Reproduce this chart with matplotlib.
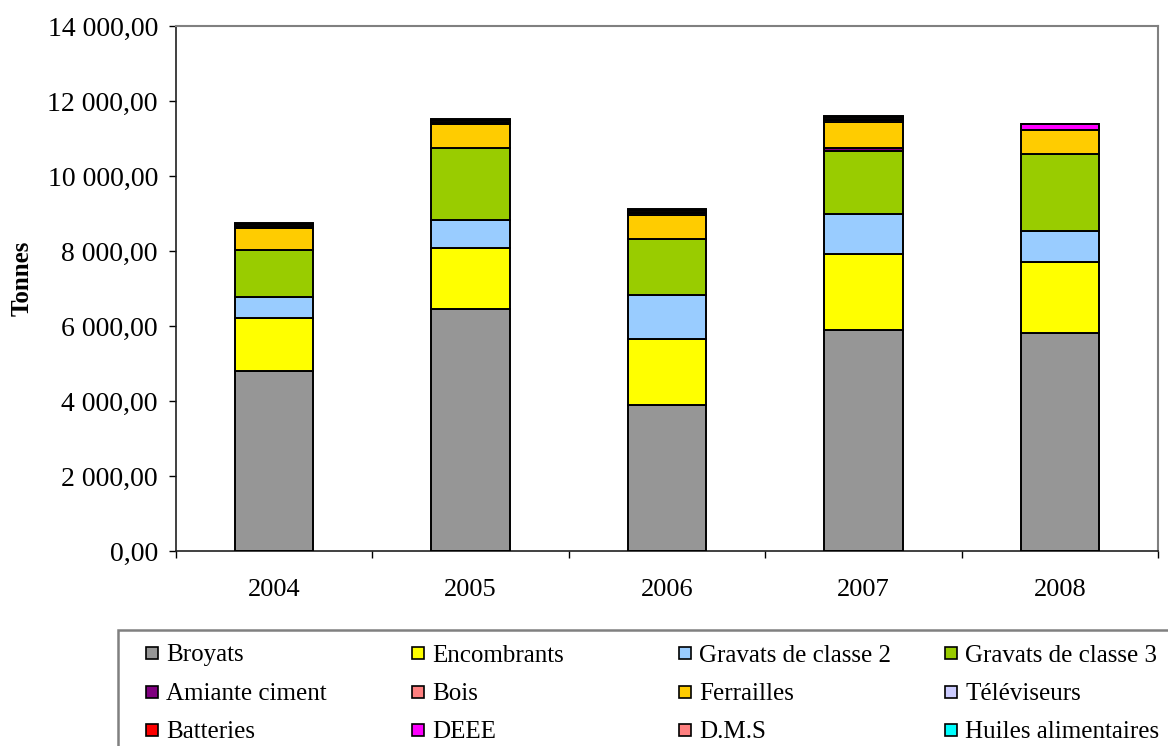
import numpy as np
import matplotlib
matplotlib.use("Agg")
import matplotlib.pyplot as plt
from matplotlib.patches import Rectangle
from matplotlib.ticker import FuncFormatter, FixedLocator

plt.rcParams["font.family"] = ["Liberation Serif", "DejaVu Serif"]

# ── Data (tonnes) ─────────────────────────────────────────────────────
years = ["2004", "2005", "2006", "2007", "2008"]

categories = ["Broyats", "Encombrants", "Gravats de classe 2", "Gravats de classe 3",
              "Amiante ciment", "Bois", "Ferrailles", "Téléviseurs",
              "Batteries", "DEEE", "D.M.S", "Huiles alimentaires"]

broyats     = [4805, 6450, 3890, 5900, 5805]
encombrants = [1405, 1635, 1760, 2030, 1910]
gravats_2   = [555, 740, 1170, 1060, 810]
gravats_3   = [1260, 1910, 1500, 1690, 2065]
amiante     = [0, 0, 0, 80, 0]
bois        = [0, 0, 0, 0, 0]
ferrailles  = [590, 645, 650, 675, 650]
televiseurs = [35, 35, 40, 50, 0]
batteries   = [30, 33, 35, 40, 0]
deee        = [0, 0, 0, 0, 150]
dms         = [35, 35, 40, 50, 0]
huiles      = [25, 30, 27, 35, 0]

series = [broyats, encombrants, gravats_2, gravats_3, amiante, bois,
          ferrailles, televiseurs, batteries, deee, dms, huiles]

colors = ["#969696", "#FFFF00", "#99CCFF", "#99CC00", "#800080", "#FF8080",
          "#FFCC00", "#CCCCFF", "#FF0000", "#FF00FF", "#FF8080", "#00FFFF"]

W, H = 1168, 746

# ── Figure ────────────────────────────────────────────────────────────
fig = plt.figure(figsize=(W / 100, H / 100), dpi=100)
ax = fig.add_axes([176 / W, 1 - 551 / H, (1158 - 176) / W, (551 - 26) / H])

x = np.arange(len(years))
bottom = np.zeros(len(years))
for vals, col, name in zip(series, colors, categories):
    ax.bar(x, vals, width=0.4, bottom=bottom, color=col,
           edgecolor="black", linewidth=1.4, label=name, zorder=3)
    bottom += np.array(vals)

ax.set_xlim(-0.5, len(years) - 0.5)
ax.set_ylim(0, 14000)
ax.set_yticks(np.arange(0, 14001, 2000))
ax.yaxis.set_major_formatter(
    FuncFormatter(lambda v, p: f"{v:,.2f}".replace(",", " ").replace(".", ",")))

# ticks between categories, labels at the centres
ax.xaxis.set_major_locator(FixedLocator(np.arange(-0.5, len(years), 1.0)))
ax.xaxis.set_minor_locator(FixedLocator(x))
ax.set_xticklabels([""] * (len(years) + 1))
ax.set_xticklabels(years, minor=True)
ax.tick_params(axis="x", which="major", direction="out", length=5, width=1)
ax.tick_params(axis="x", which="minor", length=0, pad=20, labelsize=19)
ax.tick_params(axis="y", direction="out", length=5, width=1, pad=8, labelsize=20)

for side in ["left", "bottom"]:
    ax.spines[side].set_color("#202020")
    ax.spines[side].set_linewidth(1.2)
for side in ["top", "right"]:
    ax.spines[side].set_color("#808080")
    ax.spines[side].set_linewidth(1.5)

ax.set_ylabel("Tonnes", fontsize=18, fontweight="bold")
ax.yaxis.set_label_coords(-0.145, 0.52)

# ── Legend (Excel style, 4 columns, box cut by the image edge) ───────
fig.patches.append(Rectangle((118 / W, -0.2), 1.0, (746 - 630) / H + 0.2,
                             transform=fig.transFigure, facecolor="white",
                             edgecolor="#808080", linewidth=1.8))
col_x = [146, 412, 679, 945]
row_y = [653, 692, 730]
for i, (name, col) in enumerate(zip(categories, colors)):
    cx = col_x[i % 4]
    cy = row_y[i // 4]
    fig.patches.append(Rectangle((cx / W, 1 - (cy + 6) / H), 12 / W, 12 / H,
                                 transform=fig.transFigure, facecolor=col,
                                 edgecolor="black", linewidth=1.2))
    fig.text((cx + 20) / W, 1 - cy / H, name, fontsize=18,
             ha="left", va="center_baseline")

fig.savefig("out.png", dpi=100)
